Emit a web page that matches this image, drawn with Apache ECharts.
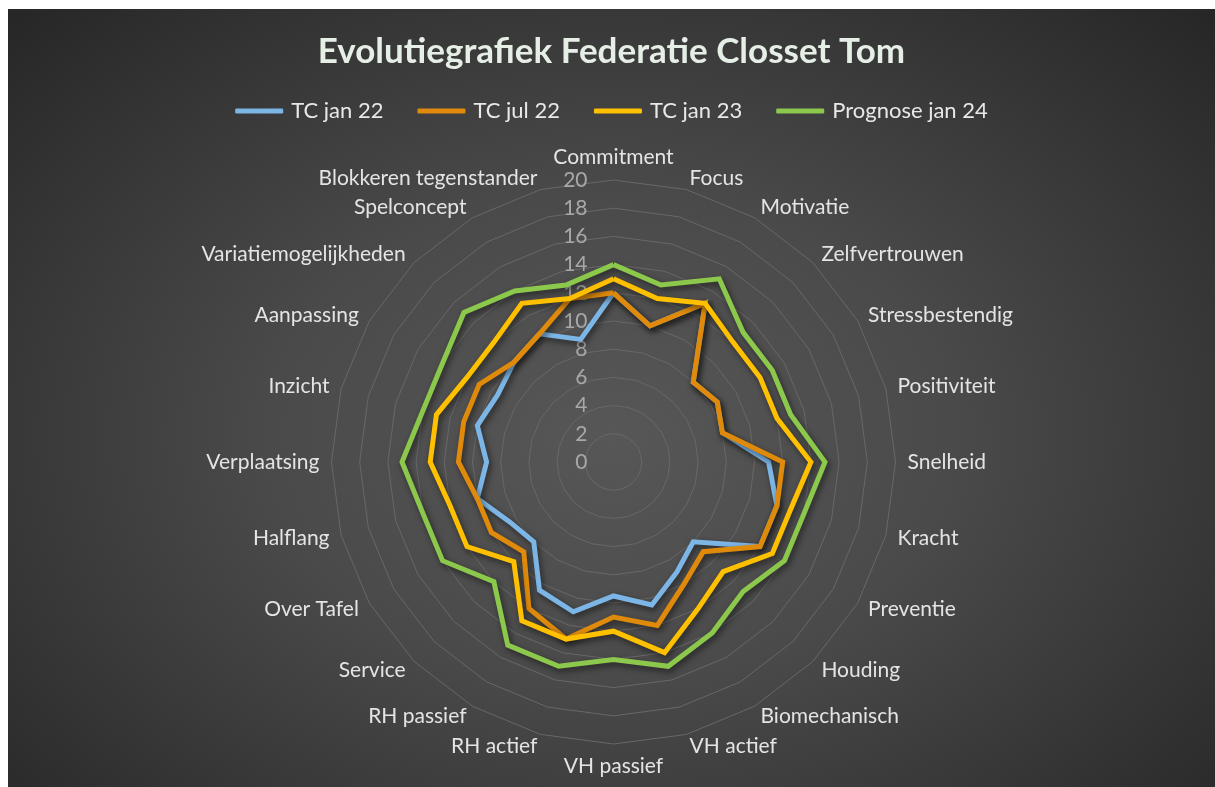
<!DOCTYPE html>
<html>
<head>
<meta charset="utf-8">
<script src="https://cdn.jsdelivr.net/npm/echarts@6/dist/echarts.min.js"></script>
<style>
  html, body { margin: 0; padding: 0; background: #ffffff; }
  #chart {
    position: absolute; left: 8px; top: 9px; width: 1207px; height: 778px;
    background: radial-gradient(ellipse farthest-corner at 50% 55%, #575757 0%, #4a4a4a 40%, #262626 100%);
  }
</style>
</head>
<body>
<div id="chart"></div>
<script>
// categorieën (assen van het radar, met de klok mee vanaf boven)
var categories = ['Commitment', 'Focus', 'Motivatie', 'Zelfvertrouwen', 'Stressbestendig', 'Positiviteit',
    'Snelheid', 'Kracht', 'Preventie', 'Houding', 'Biomechanisch', 'VH actief', 'VH passief',
    'RH actief', 'RH passief', 'Service', 'Over Tafel', 'Halflang', 'Verplaatsing', 'Inzicht',
    'Aanpassing', 'Variatiemogelijkheden', 'Spelconcept', 'Blokkeren tegenstander'];

// reeksen
var seriesNames = ['TC jan 22', 'TC jul 22', 'TC jan 23', 'Prognose jan 24'];
var tcJan22 = [12, 10, 13, 8, 8.5, 8, 11, 12, 12, 8, 9, 10.5, 9.5, 11, 10.5, 8, 8.5, 10, 9, 10, 9.5, 10, 10.5, 9];
var tcJul22 = [12, 10, 13, 8, 8.5, 8, 12, 12, 12, 9, 10, 12, 11, 13, 12, 9, 10, 10, 11, 11, 11, 10, 10.5, 12];
var tcJan23 = [13, 12, 13, 12, 12, 12, 14, 13, 13, 11, 12, 14, 12, 13, 13, 10, 12, 12, 13, 13, 12, 12, 13, 12];
var prognoseJan24 = [14, 13, 15, 13, 13, 13, 15, 14, 14, 13, 14, 15, 14, 15, 15, 12, 14, 14, 15, 14, 14, 15, 14, 13];

// schaal
var scaleMin = 0;
var scaleMax = 20;
var scaleSplits = 10;

var colors = ['#7cb6e6', '#df8a0b', '#ffc000', '#8cc84b'];
var fontFam = 'Lato, "Noto Sans", sans-serif';

var myChart = echarts.init(document.getElementById('chart'));

// echarts tekent tegen de klok in: volgorde omdraaien (behalve de eerste)
var order = [0];
for (var i = categories.length - 1; i > 0; i--) {
    order.push(i);
}

var indicators = order.map(function (idx, i) {
    var ind = {name: categories[idx], min: scaleMin, max: scaleMax};
    if (i === 0) {
        // alleen de verticale as krijgt getallen
        ind.axisLabel = {show: true};
    }
    return ind;
});

var allData = [tcJan22, tcJul22, tcJan23, prognoseJan24];

var option = {
    backgroundColor: 'transparent',
    color: colors,
    title: {
        text: 'Evolutiegrafiek Federatie Closset Tom',
        left: 'center',
        top: 20,
        textStyle: {
            color: '#e6efe6',
            fontSize: 35,
            fontWeight: 'bold',
            fontFamily: fontFam
        }
    },
    legend: {
        top: 86,
        left: 'center',
        itemGap: 34,
        itemWidth: 48,
        itemHeight: 5,
        icon: 'roundRect',
        data: seriesNames,
        textStyle: {
            color: '#e8e8e8',
            fontSize: 22,
            fontFamily: fontFam,
            padding: [0, 0, 0, 3]
        }
    },
    radar: {
        center: [605.5, 453],
        radius: 282,
        startAngle: 90,
        shape: 'polygon',
        splitNumber: scaleSplits,
        indicator: indicators,
        nameGap: 12,
        axisName: {
            color: '#e4e4e4',
            fontSize: 21,
            fontFamily: fontFam
        },
        axisLine: {show: false},
        axisTick: {show: false},
        axisLabel: {
            show: false,
            color: '#a8a8a8',
            fontSize: 21,
            fontFamily: fontFam,
            margin: 26
        },
        splitLine: {
            lineStyle: {color: '#686868', width: 1}
        },
        splitArea: {show: false}
    },
    series: [{
        type: 'radar',
        symbol: 'none',
        data: allData.map(function (vals, k) {
            return {
                name: seriesNames[k],
                value: order.map(function (idx) { return vals[idx]; }),
                lineStyle: {
                    color: colors[k],
                    width: 5,
                    join: 'miter',
                    shadowColor: 'rgba(0,0,0,0.55)',
                    shadowBlur: 6,
                    shadowOffsetX: 2,
                    shadowOffsetY: 3
                }
            };
        })
    }]
};

myChart.setOption(option);
</script>
</body>
</html>
